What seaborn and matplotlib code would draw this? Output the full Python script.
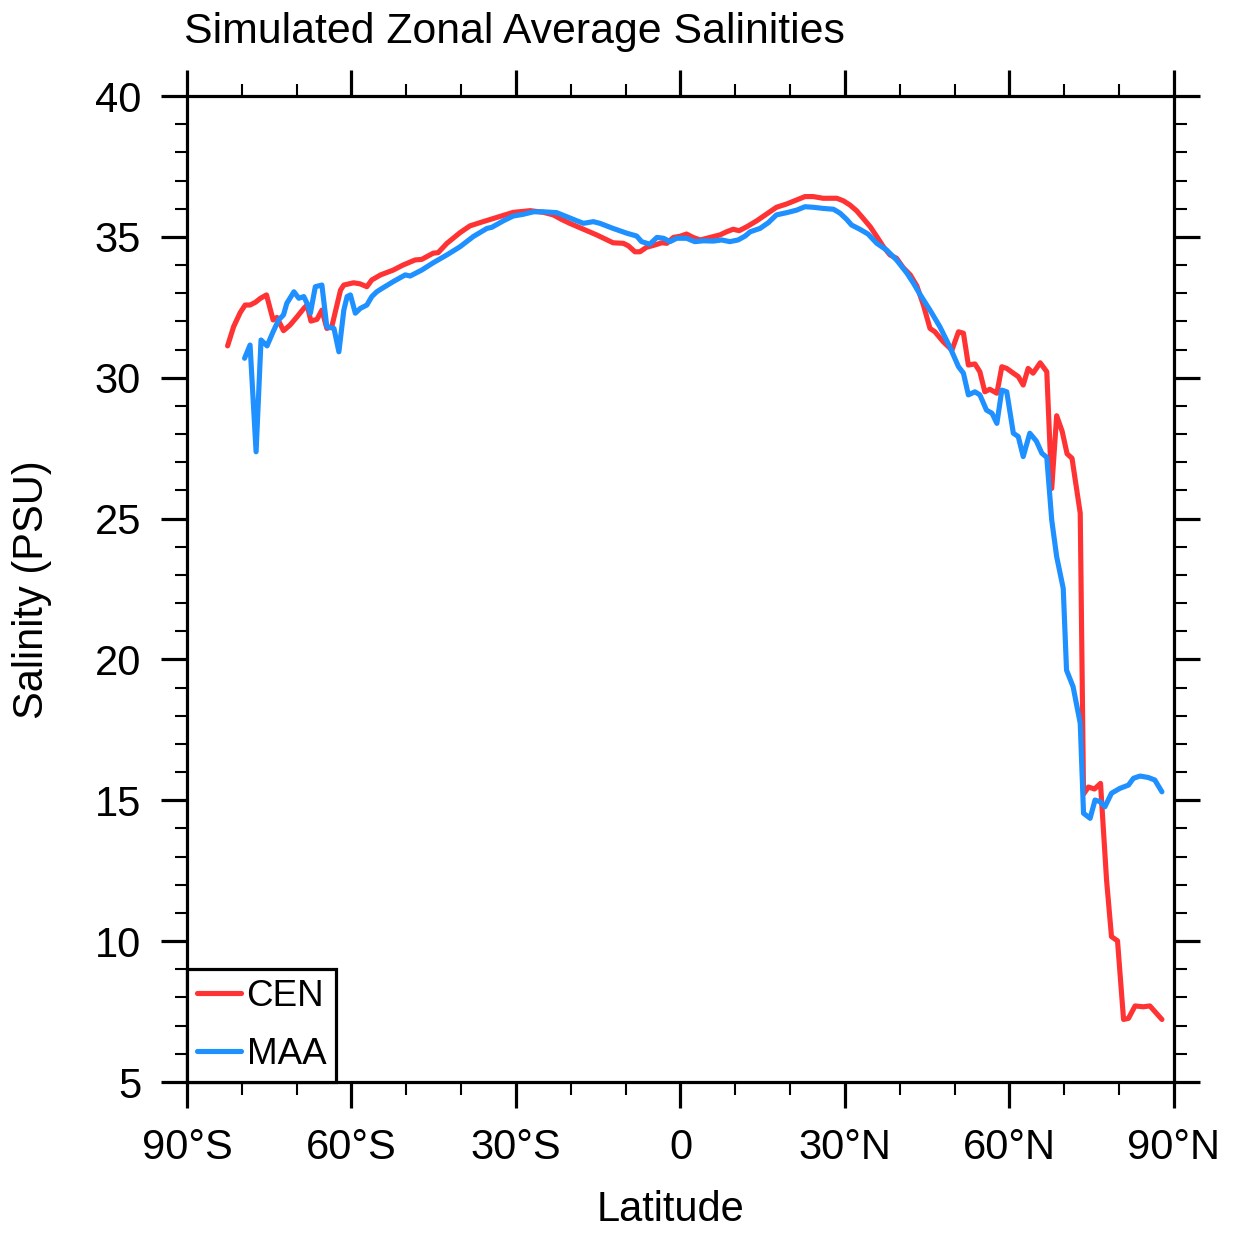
import numpy as np
import pandas as pd
import matplotlib
matplotlib.use("Agg")
import matplotlib.pyplot as plt
from matplotlib.ticker import MultipleLocator, FixedLocator
import seaborn as sns

cen_lat = [-82.6, -81.5, -80.3, -79.4, -78.5, -77.5, -76.6, -75.5, -74.3, -73.6, -72.4, -71.2, -69.9, -68.7,
           -68.1, -67.4, -66.3, -65.4, -64.5, -63.6, -62.0, -61.4, -59.6, -58.4, -57.2, -56.3, -54.7, -52.4,
           -50.6, -48.4, -47.2, -45.1, -44.2, -42.6, -40.2, -38.4, -36.0, -33.5, -30.5, -27.4, -25.0, -23.2,
           -21.7, -20.2, -17.7, -15.3, -12.3, -10.4, -9.5, -8.3, -7.4, -6.2, -4.7, -3.4, -2.5, -1.3, -0.1,
           1.1, 2.3, 3.6, 4.8, 6.0, 7.2, 8.4, 9.6, 10.7, 12.1, 13.9, 15.7, 17.5, 19.4, 21.2, 22.7, 24.2,
           26.0, 28.5, 29.7, 30.9, 32.1, 33.3, 34.6, 35.8, 37.0, 38.2, 39.4, 40.6, 41.9, 43.1, 44.3, 45.5,
           46.4, 47.9, 49.5, 50.7, 51.6, 52.5, 53.7, 54.6, 55.5, 56.4, 57.7, 58.6, 59.5, 60.7, 61.6, 62.5,
           63.4, 64.3, 65.6, 66.8, 67.7, 68.6, 69.6, 70.5, 71.4, 72.9, 73.5, 74.4, 75.5, 76.6, 77.7, 78.6,
           79.7, 80.8, 81.7, 82.9, 84.4, 85.6, 87.8]
cen_sal = [31.13, 31.81, 32.31, 32.58, 32.58, 32.68, 32.82, 32.94, 32.05, 32.14, 31.67, 31.87, 32.17, 32.46,
           32.58, 32.01, 32.07, 32.40, 31.75, 31.81, 33.11, 33.29, 33.37, 33.33, 33.23, 33.47, 33.65, 33.82,
           34.00, 34.18, 34.20, 34.42, 34.44, 34.77, 35.15, 35.39, 35.54, 35.69, 35.87, 35.93, 35.87, 35.78,
           35.62, 35.48, 35.27, 35.07, 34.79, 34.77, 34.68, 34.47, 34.47, 34.63, 34.71, 34.79, 34.77, 34.98, 35.02,
           35.10, 34.98, 34.89, 34.95, 35.01, 35.07, 35.18, 35.27, 35.22, 35.36, 35.57, 35.81, 36.05, 36.17, 36.31, 36.43, 36.43,
           36.37, 36.37, 36.28, 36.13, 35.93, 35.66, 35.36, 35.01, 34.65, 34.36, 34.24, 33.91, 33.65, 33.26, 32.58, 31.75,
           31.63, 31.28, 30.98, 31.63, 31.58, 30.45, 30.49, 30.21, 29.50, 29.59, 29.45, 30.39, 30.33, 30.16, 30.04, 29.74,
           30.33, 30.16, 30.53, 30.21, 26.07, 28.65, 28.10, 27.30, 27.14, 25.19, 15.22, 15.47, 15.40, 15.60, 12.17, 10.16,
           10.01, 7.22, 7.26, 7.70, 7.67, 7.70, 7.22]

maa_lat = [-79.5, -78.5, -77.4, -76.5, -75.4, -74.3, -73.3, -72.4, -71.8, -70.5, -69.6, -68.7, -68.1, -67.5,
           -66.6, -65.4, -64.5, -63.2, -62.3, -61.4, -60.8, -60.2, -59.3, -58.4, -57.2, -56.3, -55.4, -54.6,
           -52.4, -50.2, -49.3, -47.2, -45.1, -42.6, -40.2, -37.8, -35.3, -34.4, -32.3, -30.5, -28.7, -26.8,
           -25.0, -22.6, -20.8, -18.9, -17.7, -15.9, -14.7, -12.3, -9.8, -8.0, -7.1, -5.6, -4.3, -3.1, -1.9,
           -0.7, 1.1, 2.6, 4.2, 6.0, 7.5, 9.0, 10.5, 11.8, 12.7, 14.5, 16.0, 17.5, 19.4, 21.2, 22.7, 24.2,
           26.0, 27.9, 29.1, 30.3, 31.2, 32.7, 34.2, 35.8, 37.6, 39.4, 41.3, 42.5, 43.7, 45.5, 47.3, 49.1,
           50.7, 51.6, 52.5, 53.7, 54.6, 55.8, 56.8, 57.7, 58.6, 59.5, 60.7, 61.6, 62.5, 63.7, 64.9, 65.9,
           66.8, 67.7, 68.6, 69.8, 70.4, 71.6, 72.9, 73.5, 74.7, 75.6, 76.5, 77.4, 78.6, 80.1, 81.7, 82.6,
           83.8, 85.3, 86.5, 87.8]
maa_sal = [30.69, 31.16, 27.37, 31.34, 31.13, 31.63, 32.05, 32.23, 32.64, 33.05, 32.82, 32.88, 32.64, 32.29,
           33.23, 33.29, 31.81, 31.75, 30.92, 32.40, 32.88, 32.94, 32.29, 32.46, 32.58, 32.88, 33.05, 33.15,
           33.41, 33.65, 33.61, 33.82, 34.08, 34.36, 34.65, 35.01, 35.30, 35.34, 35.57, 35.74, 35.80, 35.89,
           35.89, 35.86, 35.72, 35.57, 35.48, 35.54, 35.48, 35.30, 35.13, 35.03, 34.83, 34.74, 34.98, 34.95, 34.83,
           34.95, 34.95, 34.83, 34.86, 34.85, 34.89, 34.83, 34.89, 35.03, 35.18, 35.30, 35.50, 35.78, 35.86, 35.95, 36.07, 36.05,
           36.01, 35.98, 35.84, 35.62, 35.42, 35.27, 35.10, 34.77, 34.53, 34.18, 33.71, 33.35, 32.95, 32.40, 31.81, 31.10,
           30.39, 30.16, 29.39, 29.50, 29.39, 28.85, 28.74, 28.38, 29.56, 29.50, 28.03, 27.91, 27.20, 28.03, 27.75, 27.32,
           27.17, 24.95, 23.65, 22.52, 19.62, 19.03, 17.73, 14.54, 14.36, 15.01, 14.95, 14.77, 15.25, 15.42, 15.54, 15.78,
           15.86, 15.81, 15.72, 15.30]

series_names = ["CEN", "MAA"]
series_colors = ["#FF3333", "#1E90FF"]
x_tick_values = [-90, -60, -30, 0, 30, 60, 90]
x_tick_labels = ["90°S", "60°S", "30°S", "0", "30°N", "60°N", "90°N"]
y_tick_values = [5, 10, 15, 20, 25, 30, 35, 40]
title_text = "Simulated Zonal Average Salinities"
x_label = "Latitude"
y_label = "Salinity (PSU)"

df = pd.concat([
    pd.DataFrame({"lat": cen_lat, "sal": cen_sal, "run": "CEN"}),
    pd.DataFrame({"lat": maa_lat, "sal": maa_sal, "run": "MAA"}),
], ignore_index=True)

sns.set_style("ticks")
plt.rcParams["font.family"] = ["Liberation Sans", "DejaVu Sans"]
for k in ["text.color", "axes.labelcolor", "xtick.color", "ytick.color", "axes.edgecolor"]:
    plt.rcParams[k] = "black"

W, H = 1234, 1237
fig = plt.figure(figsize=(W / 100, H / 100), dpi=100)
ax = fig.add_axes([187 / W, 1 - 1082 / H, (1174 - 187) / W, (1082 - 96) / H])

sns.lineplot(data=df, x="lat", y="sal", hue="run", hue_order=series_names,
             palette=dict(zip(series_names, series_colors)), estimator=None,
             sort=False, linewidth=3.7, ax=ax, legend=True)

ax.set_xlim(-90, 90)
ax.set_ylim(5, 40)
ax.xaxis.set_major_locator(FixedLocator(x_tick_values))
ax.set_xticklabels(x_tick_labels)
ax.xaxis.set_minor_locator(MultipleLocator(10))
ax.yaxis.set_major_locator(FixedLocator(y_tick_values))
ax.yaxis.set_minor_locator(MultipleLocator(1))

for s in ax.spines.values():
    s.set_visible(True)
    s.set_linewidth(2.3)
    s.set_color("black")

ax.tick_params(which="both", direction="out", top=True, right=True, bottom=True, left=True,
               labeltop=False, labelright=False, color="black", labelcolor="black")
ax.tick_params(which="major", length=19, width=2.3, labelsize=30, pad=14)
ax.tick_params(which="minor", length=9, width=1.5)

ax.set_xlabel(x_label, fontsize=30, color="black")
ax.set_ylabel(y_label, fontsize=30, color="black")
ax.xaxis.set_label_coords((671 - 187) / 987, (1082 - 1190) / 986)
ax.yaxis.set_label_coords((52 - 187) / 987, (1082 - 590) / 986)

fig.text(184 / W, 1 - 43 / H, title_text, fontsize=30.8, ha="left", va="baseline", color="black")

leg = ax.legend(loc="lower left", bbox_to_anchor=(0, 0), borderaxespad=0, fontsize=26.5,
                frameon=True, fancybox=False, framealpha=1, edgecolor="black",
                handlelength=1.2, handletextpad=0.15, borderpad=0.27, labelspacing=0.62)
leg.get_frame().set_linewidth(2.3)
for t in leg.get_texts():
    t.set_color("black")
for line in leg.get_lines():
    line.set_linewidth(3.7)

fig.savefig("out.png", dpi=100)
